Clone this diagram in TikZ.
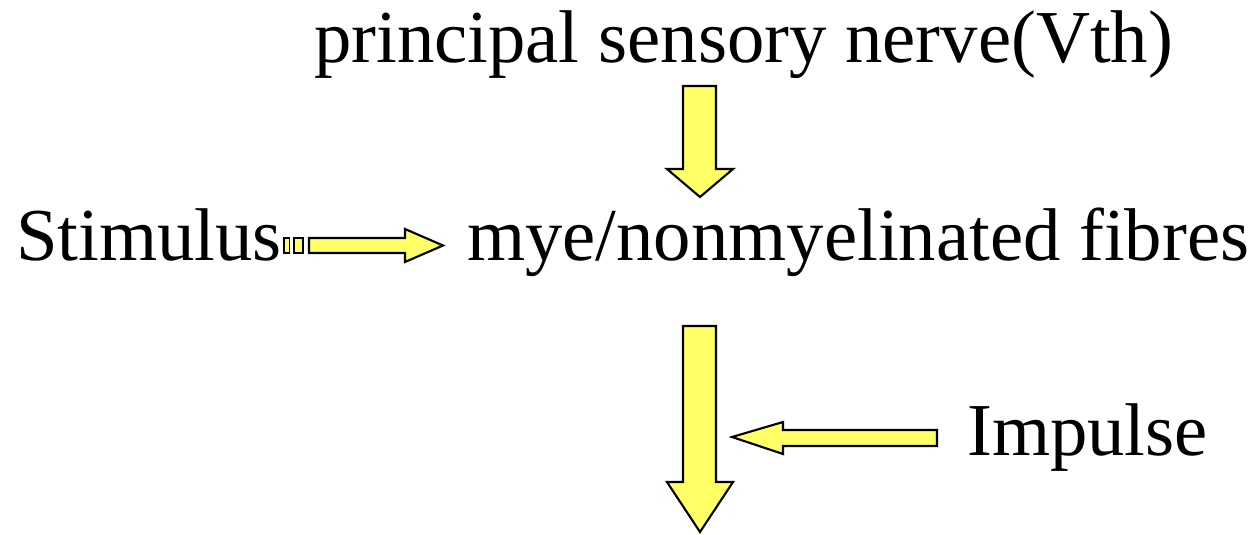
\documentclass[tikz,border=0pt]{standalone}
\usepackage{fontspec}
\setmainfont{Liberation Serif}
\definecolor{arrowyellow}{RGB}{255,255,102}
\tikzset{
  blockarrow/.style={fill=arrowyellow, draw=black, line width=2.1pt, line join=miter},
  label/.style={inner sep=0pt, anchor=base west, font=\fontsize{74.7}{80}\selectfont}
}
\begin{document}
\begin{tikzpicture}[x=1pt,y=-1pt]
\useasboundingbox (0,0) rectangle (1253,535);
% texts
\node[label] (nerve) at (314,63) {principal sensory nerve(Vth)};
\node[label] (stim) at (16,260) {Stimulus};
\node[label] (fibres) at (467,260) {mye/nonmyelinated fibres};
\node[label] (imp) at (967,455) {Impulse};
% top down arrow
\draw[blockarrow] (683,86) -- (716,86) -- (716,169) -- (733,169) -- (700,197) -- (667,169) -- (683,169) -- cycle;
% bottom down arrow
\draw[blockarrow] (683,326) -- (716,326) -- (716,482) -- (733,482) -- (700,532) -- (667,482) -- (683,482) -- cycle;
% left arrow from Impulse
\draw[blockarrow] (937,430) -- (783,430) -- (783,422) -- (732,437) -- (783,454) -- (783,446) -- (937,446) -- cycle;
% striped right arrow from Stimulus
\draw[blockarrow, line width=1.5pt] (284,238) rectangle (289.5,253);
\draw[blockarrow, line width=1.5pt] (294,238) rectangle (303,253);
\draw[blockarrow] (309,238) -- (405,238) -- (405,229) -- (443,245.5) -- (405,262) -- (405,253) -- (309,253) -- cycle;
\end{tikzpicture}
\end{document}
